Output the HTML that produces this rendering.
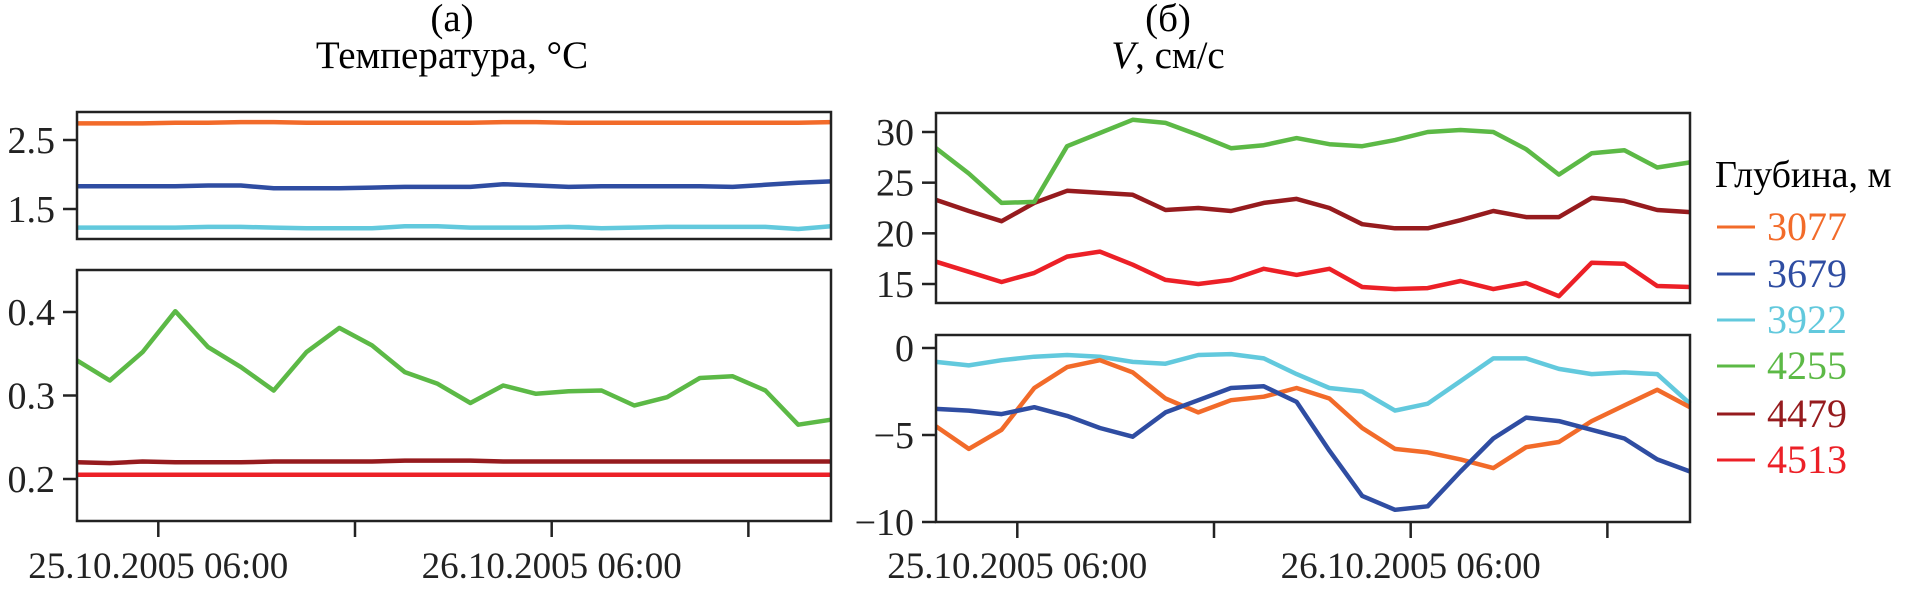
<!DOCTYPE html>
<html><head><meta charset="utf-8">
<style>
html,body{margin:0;padding:0;background:#fff;}
svg{display:block;font-family:"Liberation Serif","DejaVu Serif",serif;}
</style></head>
<body>
<svg id="chart" width="1914" height="589" viewBox="0 0 1914 589" xmlns="http://www.w3.org/2000/svg">
<text x="452" y="31" font-size="39" text-anchor="middle">(а)</text>
<text x="452" y="68" font-size="39" text-anchor="middle">Температура, °С</text>
<text x="1168" y="31" font-size="39" text-anchor="middle">(б)</text>
<text x="1168" y="68" font-size="39" text-anchor="middle"><tspan font-style="italic">V</tspan>, см/с</text>
<g id="legend">
<text x="1715" y="187" font-size="38">Глубина, м</text>
</g>
<g id="plots"></g>
</svg>
<script>
const NS="http://www.w3.org/2000/svg";
const depths=["3077","3679","3922","4255","4479","4513"];
const colors=["#f26b2a","#2f4da2","#62c9dd","#5cb946","#961b1e","#ec2027"];
const xTickLabels=["25.10.2005 06:00","","26.10.2005 06:00",""];
const xTickIdx=[2.48,8.48,14.48,20.48];
// temperature, upper panel
const t3077=[2.74,2.74,2.74,2.75,2.75,2.76,2.76,2.75,2.75,2.75,2.75,2.75,2.75,2.76,2.76,2.75,2.75,2.75,2.75,2.75,2.75,2.75,2.75,2.76];
const t3679=[1.83,1.83,1.83,1.83,1.84,1.84,1.80,1.80,1.80,1.81,1.82,1.82,1.82,1.86,1.84,1.82,1.83,1.83,1.83,1.83,1.82,1.85,1.88,1.90];
const t3922=[1.23,1.23,1.23,1.23,1.24,1.24,1.23,1.22,1.22,1.22,1.25,1.25,1.23,1.23,1.23,1.24,1.22,1.23,1.24,1.24,1.24,1.24,1.21,1.25];
// temperature, lower panel
const t4255=[0.342,0.318,0.352,0.401,0.358,0.334,0.306,0.352,0.381,0.360,0.328,0.314,0.291,0.312,0.302,0.305,0.306,0.288,0.298,0.321,0.323,0.306,0.265,0.271];
const t4479=[0.220,0.219,0.221,0.220,0.220,0.220,0.221,0.221,0.221,0.221,0.222,0.222,0.222,0.221,0.221,0.221,0.221,0.221,0.221,0.221,0.221,0.221,0.221,0.221];
const t4513=[0.205,0.205,0.205,0.205,0.205,0.205,0.205,0.205,0.205,0.205,0.205,0.205,0.205,0.205,0.205,0.205,0.205,0.205,0.205,0.205,0.205,0.205,0.205,0.205];
// velocity, upper panel
const v4255=[28.4,25.9,23.0,23.1,28.6,29.9,31.2,30.9,29.7,28.4,28.7,29.4,28.8,28.6,29.2,30.0,30.2,30.0,28.3,25.8,27.9,28.2,26.5,27.0];
const v4479=[23.3,22.2,21.2,23.0,24.2,24.0,23.8,22.3,22.5,22.2,23.0,23.4,22.5,20.9,20.5,20.5,21.3,22.2,21.6,21.6,23.5,23.2,22.3,22.1];
const v4513=[17.2,16.2,15.2,16.1,17.7,18.2,16.9,15.4,15.0,15.4,16.5,15.9,16.5,14.7,14.5,14.6,15.3,14.5,15.1,13.8,17.1,17.0,14.8,14.7];
// velocity, lower panel
const v3922=[-0.8,-1.0,-0.7,-0.5,-0.4,-0.5,-0.8,-0.9,-0.4,-0.35,-0.6,-1.5,-2.3,-2.5,-3.6,-3.2,-1.9,-0.6,-0.6,-1.2,-1.5,-1.4,-1.5,-3.2];
const v3077=[-4.5,-5.8,-4.7,-2.3,-1.1,-0.7,-1.4,-2.9,-3.7,-3.0,-2.8,-2.3,-2.9,-4.6,-5.8,-6.0,-6.4,-6.9,-5.7,-5.4,-4.2,-3.3,-2.4,-3.4];
const v3679=[-3.5,-3.6,-3.8,-3.4,-3.9,-4.6,-5.1,-3.7,-3.0,-2.3,-2.2,-3.1,-5.9,-8.5,-9.3,-9.1,-7.1,-5.2,-4.0,-4.2,-4.7,-5.2,-6.4,-7.1];
const yTicksTT=["2.5","1.5"], yTicksTB=["0.4","0.3","0.2"], yTicksVT=["30","25","20","15"], yTicksVB=["0","\u22125","\u221210"];

const plots=document.getElementById('plots');
function mk(tag,attrs,parent){const e=document.createElementNS(NS,tag);for(const k in attrs)e.setAttribute(k,attrs[k]);(parent||plots).appendChild(e);return e;}

function panel(name,x0,x1,y0,y1,vTop,vBot,ticks,series,showX){
  const g=mk('g',{});
  
  
  const xs=i=>x0+(x1-x0)*i/23;
  const ys=v=>y0+(y1-y0)*(vTop-v)/(vTop-vBot);
  series.forEach(s=>{
    const p=mk('polyline',{points:s.d.map((v,i)=>xs(i).toFixed(1)+','+ys(v).toFixed(1)).join(' '),fill:'none',stroke:s.c,'stroke-width':4.5,'stroke-linejoin':'round'},g);
    
    
  });
  const fr=mk('rect',{x:x0,y:y0,width:x1-x0,height:y1-y0,fill:'none',stroke:'#222','stroke-width':2.5},g);
  
  
  ticks.forEach(t=>{
    const y=ys(parseFloat(t.replace('\u2212','-')));
    mk('line',{x1:x0-14,x2:x0,y1:y,y2:y,stroke:'#222','stroke-width':2.5},g);
    const tx=mk('text',{x:x0-22,y:y+13,'font-size':38,'text-anchor':'end',fill:'#222'},g);
    tx.textContent=t;
    
    
  });
  if(showX){
    xTickIdx.forEach((ix,k)=>{
      const x=xs(ix);
      mk('line',{x1:x,x2:x,y1:y1,y2:y1+16,stroke:'#222','stroke-width':2.5},g);
      if(xTickLabels[k]){
        const tx=mk('text',{x:x,y:578,'font-size':37,'text-anchor':'middle',fill:'#222'},g);
        tx.textContent=xTickLabels[k];
        
        
      }
    });
  }
}
function panel2(name,x0,x1,y0,y1,ya,va,yb,vb,ticks,series,showX){
  const vTop=va+(y0-ya)*(vb-va)/(yb-ya), vBot=va+(y1-ya)*(vb-va)/(yb-ya);
  panel(name,x0,x1,y0,y1,vTop,vBot,ticks,series,showX);
}
panel2('temp-upper',77,831,112,239,140,2.5,209,1.5,yTicksTT,[{d:t3077,c:colors[0],n:'3077'},{d:t3679,c:colors[1],n:'3679'},{d:t3922,c:colors[2],n:'3922'}],false);
panel2('temp-lower',77,831,270,521,312,0.4,479,0.2,yTicksTB,[{d:t4479,c:colors[4],n:'4479'},{d:t4513,c:colors[5],n:'4513'},{d:t4255,c:colors[3],n:'4255'}],true);
panel2('vel-upper',936,1690,113,303,132,30,284,15,yTicksVT,[{d:v4513,c:colors[5],n:'4513'},{d:v4479,c:colors[4],n:'4479'},{d:v4255,c:colors[3],n:'4255'}],false);
panel2('vel-lower',936,1690,335,522,348,0,522,-10,yTicksVB,[{d:v3922,c:colors[2],n:'3922'},{d:v3077,c:colors[0],n:'3077'},{d:v3679,c:colors[1],n:'3679'}],true);

const legend=document.getElementById('legend');
const legY=[240,287,333,379,427,473];
depths.forEach((d,i)=>{
  const g=document.createElementNS(NS,'g');
  
  
  legend.appendChild(g);
  mk('line',{x1:1717,x2:1755,y1:legY[i]-13,y2:legY[i]-13,stroke:colors[i],'stroke-width':3},g);
  const t=mk('text',{x:1767,y:legY[i],'font-size':40,fill:colors[i]},g);
  t.textContent=d;
});
</script>
</body></html>
